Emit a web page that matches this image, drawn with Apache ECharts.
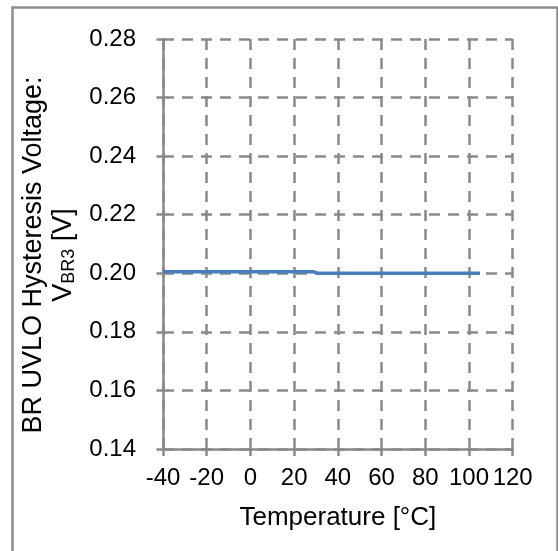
<!DOCTYPE html>
<html>
<head>
<meta charset="utf-8">
<script src="https://cdn.jsdelivr.net/npm/echarts@6/dist/echarts.min.js"></script>
<style>
html,body{margin:0;padding:0;background:#fff;}
#c{width:558px;height:551px;}
</style>
</head>
<body>
<div id="c"></div>
<script>
var temperatures = [-40, -20, 0, 20, 29, 31, 50, 70, 90, 105];
var voltages = [0.2005, 0.2005, 0.2005, 0.2005, 0.2005, 0.2000, 0.2000, 0.2000, 0.2000, 0.2000];
var xTicks = [-40, -20, 0, 20, 40, 60, 80, 100, 120];
var yTicks = [0.14, 0.16, 0.18, 0.20, 0.22, 0.24, 0.26, 0.28];

var chart = echarts.init(document.getElementById('c'), null, {renderer: 'canvas'});
var font = '"Liberation Sans", Arial, sans-serif';
var grey = '#898989';
var pts = temperatures.map(function (t, i) { return [t, voltages[i]]; });

chart.setOption({
  animation: false,
  backgroundColor: '#ffffff',
  graphic: [{
    type: 'rect',
    shape: {x: 12.5, y: 7.5, width: 545, height: 560},
    style: {fill: 'none', stroke: '#8c8c8c', lineWidth: 2.5},
    silent: true
  }],
  grid: {left: 163, right: 45.3, top: 39, bottom: 102, containLabel: false},
  xAxis: {
    type: 'value',
    min: xTicks[0], max: xTicks[xTicks.length - 1], interval: 20,
    name: 'Temperature [°C]',
    nameLocation: 'middle',
    nameGap: 56,
    nameTextStyle: {fontFamily: font, fontSize: 26, color: '#000'},
    axisLine: {show: true, onZero: false, lineStyle: {color: grey, width: 2.5}},
    axisTick: {show: true, length: 7, lineStyle: {color: grey, width: 2.5}},
    axisLabel: {fontFamily: font, fontSize: 24, color: '#000', margin: 17},
    splitLine: {show: true, lineStyle: {color: grey, width: 2.5, type: [11, 8]}}
  },
  yAxis: {
    type: 'value',
    min: yTicks[0], max: yTicks[yTicks.length - 1], interval: 0.02,
    name: '{a|BR UVLO Hysteresis Voltage:}\n{a|V}{s|BR3}{a| [V]}',
    nameLocation: 'middle',
    nameRotate: 90,
    nameGap: 82,
    nameTextStyle: {
      fontFamily: font, color: '#000', fontSize: 27, padding: [0, 22, 0, 0],
      rich: {
        a: {fontFamily: font, fontSize: 27, color: '#000', lineHeight: 30},
        s: {fontFamily: font, fontSize: 18, color: '#000', lineHeight: 30, padding: [12, 0, 0, 0]}
      }
    },
    axisLine: {show: true, onZero: false, lineStyle: {color: grey, width: 2.5}},
    axisTick: {show: true, length: 6.5, lineStyle: {color: grey, width: 2.5}},
    axisLabel: {fontFamily: font, fontSize: 24, color: '#000', margin: 27,
      formatter: function (v) { return v.toFixed(2); }},
    splitLine: {show: true, lineStyle: {color: grey, width: 2.5, type: [11, 8]}}
  },
  series: [{
    type: 'line',
    data: pts,
    showSymbol: false,
    symbol: 'none',
    lineStyle: {color: '#4a7ebb', width: 3.5},
    z: 5
  }]
});
</script>
</body>
</html>
